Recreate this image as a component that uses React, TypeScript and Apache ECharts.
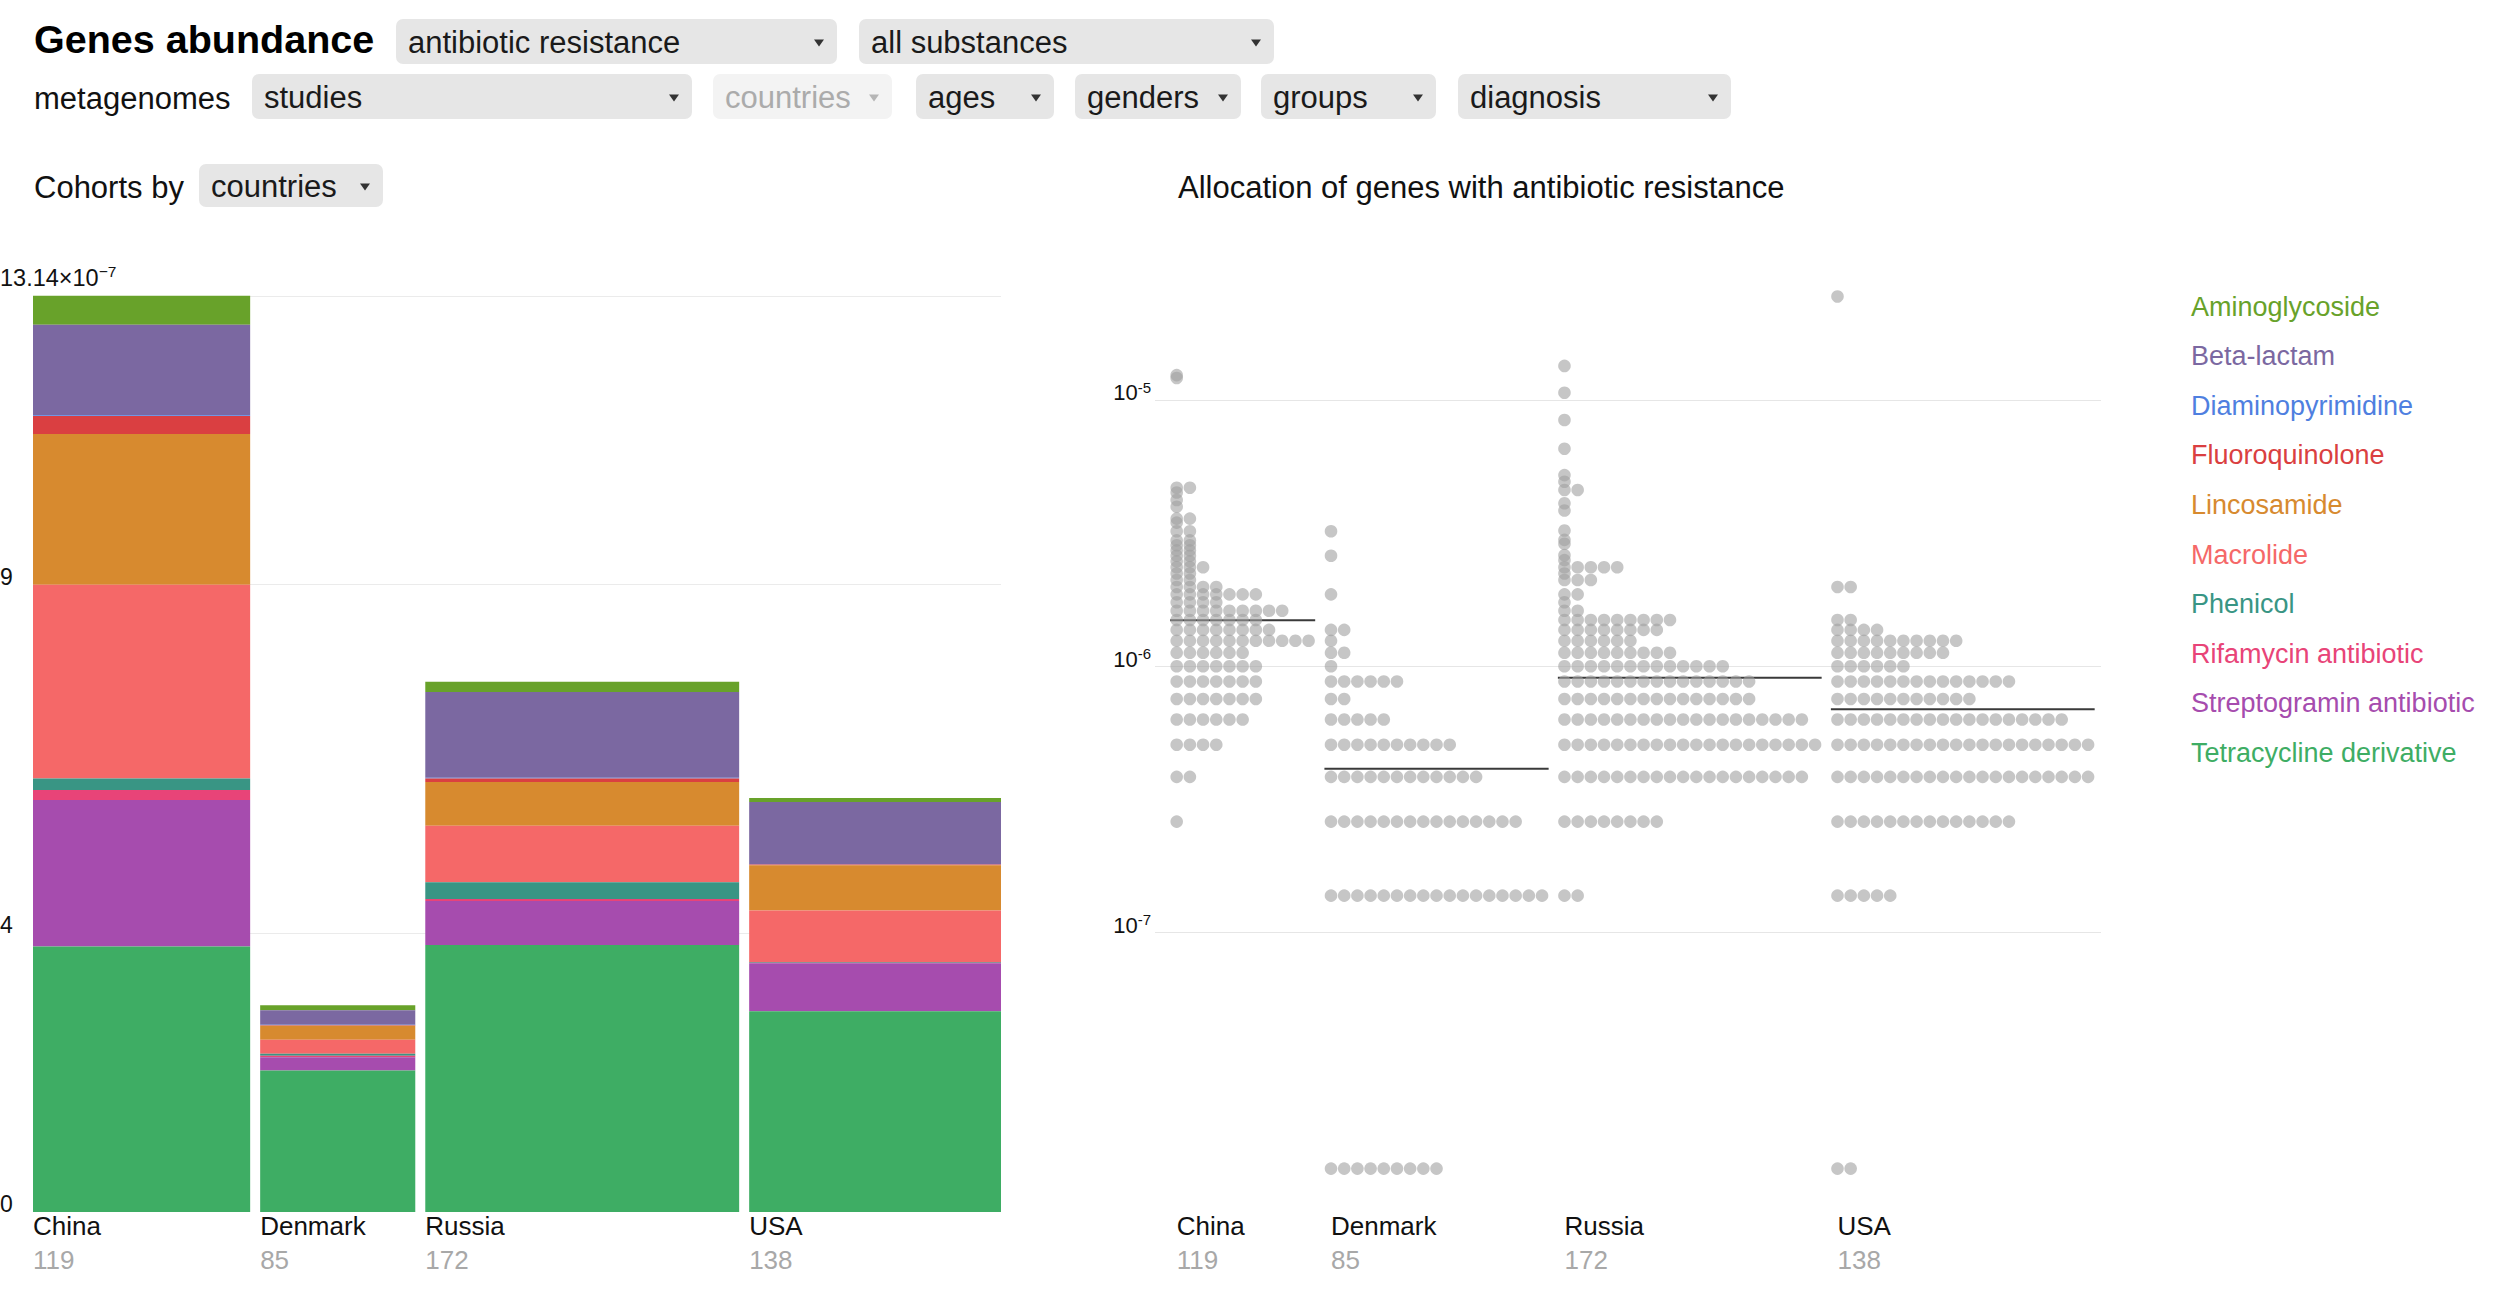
import React, { useEffect, useRef } from 'react';
import * as echarts from 'echarts';

const FONT = "'Liberation Sans', Arial, Helvetica, sans-serif";

// ---------- data: cohorts ----------
const countries = ['China', 'Denmark', 'Russia', 'USA'];
const cohortSizes = [119, 85, 172, 138];

const classNames = [
  'Aminoglycoside',
  'Beta-lactam',
  'Diaminopyrimidine',
  'Fluoroquinolone',
  'Lincosamide',
  'Macrolide',
  'Phenicol',
  'Rifamycin antibiotic',
  'Streptogramin antibiotic',
  'Tetracycline derivative',
];
const classColors = [
  '#68a22a',
  '#7b68a1',
  '#4f7fe0',
  '#da3f41',
  '#d78a2f',
  '#f56868',
  '#399584',
  '#e84478',
  '#a64cae',
  '#3ead64',
];

// mean abundance per antibiotic class, in units of 10^-7 (China, Denmark, Russia, USA)
const aminoglycoside = [0.415, 0.07, 0.145, 0.06];
const betaLactam = [1.3, 0.21, 1.23, 0.89];
const diaminopyrimidine = [0.01, 0.005, 0.01, 0.005];
const fluoroquinolone = [0.26, 0.01, 0.05, 0.01];
const lincosamide = [2.16, 0.2, 0.63, 0.65];
const macrolide = [2.78, 0.2, 0.81, 0.74];
const phenicol = [0.164, 0.03, 0.24, 0.01];
const rifamycin = [0.145, 0.02, 0.03, 0.005];
const streptogramin = [2.1, 0.19, 0.63, 0.69];
const tetracycline = [3.81, 2.03, 3.83, 2.88];
const classValues = [
  aminoglycoside, betaLactam, diaminopyrimidine, fluoroquinolone, lincosamide,
  macrolide, phenicol, rifamycin, streptogramin, tetracycline,
];

const barTickValues = [0, 4, 9, 13.14];
const barGridValues = [4, 9, 13.14];
const barMax = 13.14;
const barExponent = '\u22127';

// ---------- data: per-sample abundance, rows of [abundance, number of samples] ----------
const chinaRows = [
  [2.6e-7, 1], [3.83e-7, 2], [5.06e-7, 4], [6.29e-7, 6], [7.52e-7, 7], [8.75e-7, 7],
  [9.98e-7, 7], [1.121e-6, 6], [1.244e-6, 11], [1.367e-6, 8], [1.49e-6, 7], [1.613e-6, 9],
  [1.736e-6, 4], [1.859e-6, 7], [1.982e-6, 4], [2.105e-6, 2], [2.228e-6, 2], [2.351e-6, 3],
  [2.474e-6, 2], [2.597e-6, 2], [2.72e-6, 2], [2.843e-6, 2], [2.966e-6, 2], [3.21e-6, 2],
  [3.46e-6, 1], [3.58e-6, 2], [3.97e-6, 1], [4.21e-6, 1], [4.49e-6, 1], [4.68e-6, 2],
  [1.21e-5, 1], [1.24e-5, 1],
];
const denmarkRows = [
  [0, 9], [1.37e-7, 17], [2.6e-7, 15], [3.83e-7, 12], [5.06e-7, 10], [6.29e-7, 5],
  [7.52e-7, 2], [8.75e-7, 6], [9.98e-7, 1], [1.121e-6, 2], [1.244e-6, 1], [1.367e-6, 2],
  [1.859e-6, 1], [2.597e-6, 1], [3.21e-6, 1],
];
const russiaRows = [
  [1.37e-7, 2], [2.6e-7, 8], [3.83e-7, 19], [5.06e-7, 20], [6.29e-7, 19], [7.52e-7, 15],
  [8.75e-7, 15], [9.98e-7, 13], [1.121e-6, 9], [1.244e-6, 6], [1.367e-6, 8], [1.49e-6, 9],
  [1.613e-6, 2], [1.736e-6, 1], [1.859e-6, 2], [2.105e-6, 3], [2.228e-6, 1], [2.351e-6, 5],
  [2.5e-6, 1], [2.61e-6, 1], [2.88e-6, 1], [2.98e-6, 1], [3.23e-6, 1], [3.84e-6, 1],
  [4.09e-6, 1], [4.59e-6, 2], [4.93e-6, 1], [5.22e-6, 1], [6.56e-6, 1], [8.41e-6, 1],
  [1.065e-5, 1], [1.343e-5, 1],
];
const usaRows = [
  [0, 2], [1.37e-7, 5], [2.6e-7, 14], [3.83e-7, 20], [5.06e-7, 20], [6.29e-7, 18],
  [7.52e-7, 11], [8.75e-7, 14], [9.98e-7, 6], [1.121e-6, 9], [1.244e-6, 10], [1.367e-6, 4],
  [1.49e-6, 2], [1.982e-6, 2], [2.45e-5, 1],
];
const countryRows = [chinaRows, denmarkRows, russiaRows, usaRows];
const medianAbundance = [1.486e-6, 4.11e-7, 9.04e-7, 6.88e-7];
const logTickValues = [1e-7, 1e-6, 1e-5];
const zeroPlotValue = 1.29e-8; // samples with zero abundance are drawn on this floor
const logMin = 8.86e-9;
const logMax = 2.46e-5;

// ---------- layout constants ----------
const BAR_GAP_UNITS = 5.48;
const DOT_COLUMN_GAP = 0.7;
const DOT_X_MIN = -1.645;
const DOT_X_MAX = 70.08;

function buildOption() {
  // bar positions (width proportional to cohort size)
  const barStarts: number[] = [];
  let acc = 0;
  cohortSizes.forEach((n) => {
    barStarts.push(acc);
    acc += n + BAR_GAP_UNITS;
  });
  const barAxisMax = acc - BAR_GAP_UNITS;

  // stacks: bottom = last class, top = first class
  const stackOrder = classNames.map((_, i) => i).reverse();
  const segData: number[][][] = classNames.map(() => []);
  countries.forEach((_, ci) => {
    let base = 0;
    stackOrder.forEach((k) => {
      const v = classValues[k][ci];
      segData[k].push([barStarts[ci], barStarts[ci] + cohortSizes[ci], base, base + v]);
      base += v;
    });
  });

  // dot columns
  const maxCounts = countryRows.map((rows) => Math.max(...rows.map((r) => r[1])));
  const colStarts: number[] = [];
  let c = 0;
  maxCounts.forEach((m) => {
    colStarts.push(c);
    c += m + DOT_COLUMN_GAP;
  });
  const dotPoints: number[][] = [];
  countryRows.forEach((rows, ci) => {
    rows.forEach(([v, n]) => {
      for (let i = 0; i < n; i++) dotPoints.push([colStarts[ci] + i, v === 0 ? zeroPlotValue : v]);
    });
  });

  const barSeries = classNames.map((name, k) => ({
    type: 'custom',
    name,
    xAxisIndex: 0,
    yAxisIndex: 0,
    silent: true,
    itemStyle: { color: classColors[k] },
    encode: { x: [0, 1], y: [2, 3] },
    data: segData[k],
    renderItem: (params: any, api: any) => {
      const a = api.coord([api.value(0), api.value(2)]);
      const b = api.coord([api.value(1), api.value(3)]);
      return {
        type: 'rect',
        shape: { x: a[0], y: b[1], width: b[0] - a[0], height: a[1] - b[1] },
        style: { fill: classColors[k] },
      };
    },
  }));

  const labelGroup = (x: number, y: number, i: number) => ({
    type: 'group',
    children: [
      {
        type: 'text',
        x,
        y: y + 14,
        style: {
          text: countries[i], fill: '#111', fontSize: 26, fontFamily: FONT,
          align: 'left', verticalAlign: 'middle', textAlign: 'left', textVerticalAlign: 'middle',
        },
      },
      {
        type: 'text',
        x,
        y: y + 48,
        style: {
          text: String(cohortSizes[i]), fill: '#a8a8a8', fontSize: 26, fontFamily: FONT,
          align: 'left', verticalAlign: 'middle', textAlign: 'left', textVerticalAlign: 'middle',
        },
      },
    ],
  });

  const barLabelSeries = {
    type: 'custom',
    xAxisIndex: 0,
    yAxisIndex: 0,
    silent: true,
    encode: { x: 0, y: 1 },
    data: countries.map((_, i) => [barStarts[i], 0]),
    renderItem: (params: any, api: any) => {
      const p = api.coord([api.value(0), api.value(1)]);
      return labelGroup(p[0], p[1], params.dataIndex);
    },
  };

  const dotSeries = {
    type: 'scatter',
    xAxisIndex: 1,
    yAxisIndex: 1,
    silent: true,
    symbol: 'circle',
    symbolSize: 12.6,
    itemStyle: { color: '#a0a0a0', opacity: 0.6 },
    data: dotPoints,
  };

  const medianSeries = {
    type: 'custom',
    xAxisIndex: 1,
    yAxisIndex: 1,
    silent: true,
    encode: { x: [0, 1], y: 2 },
    data: countries.map((_, i) => [colStarts[i] - 0.5, colStarts[i] + maxCounts[i] - 0.5, medianAbundance[i]]),
    renderItem: (params: any, api: any) => {
      const a = api.coord([api.value(0), api.value(2)]);
      const b = api.coord([api.value(1), api.value(2)]);
      return {
        type: 'line',
        shape: { x1: a[0], y1: a[1], x2: b[0], y2: b[1] },
        style: { stroke: '#3a3a3a', lineWidth: 2 },
      };
    },
  };

  const dotLabelSeries = {
    type: 'custom',
    xAxisIndex: 1,
    yAxisIndex: 1,
    silent: true,
    encode: { x: 0, y: 1 },
    data: countries.map((_, i) => [colStarts[i], logMin]),
    renderItem: (params: any, api: any) => {
      const p = api.coord([api.value(0), api.value(1)]);
      return labelGroup(p[0], p[1], params.dataIndex);
    },
  };

  // ---------- header (controls) ----------
  const dropdowns = [
    { x: 396, y: 19, w: 441, h: 45, text: 'antibiotic resistance' },
    { x: 859, y: 19, w: 415, h: 45, text: 'all substances' },
    { x: 252, y: 74, w: 440, h: 45, text: 'studies' },
    { x: 713, y: 74, w: 179, h: 45, text: 'countries', disabled: true },
    { x: 916, y: 74, w: 138, h: 45, text: 'ages' },
    { x: 1075, y: 74, w: 166, h: 45, text: 'genders' },
    { x: 1261, y: 74, w: 175, h: 45, text: 'groups' },
    { x: 1458, y: 74, w: 273, h: 45, text: 'diagnosis' },
    { x: 199, y: 164, w: 184, h: 43, text: 'countries' },
  ];
  const txt = (text: string, x: number, y: number, size: number, extra: any = {}) => ({
    type: 'text',
    x,
    y,
    silent: true,
    style: {
      text, fill: '#111', fontSize: size, fontFamily: FONT,
      align: 'left', verticalAlign: 'middle', textAlign: 'left', textVerticalAlign: 'middle',
      ...extra,
    },
  });
  const graphics: any[] = [
    txt('Genes abundance', 34, 39, 39.5, { fontWeight: 'bold', fill: '#000' }),
    txt('metagenomes', 34, 98, 31),
    txt('Cohorts by', 34, 187, 31),
    txt('Allocation of genes with antibiotic resistance', 1178, 187, 31),
  ];
  dropdowns.forEach((d) => {
    const cy = d.y + d.h / 2;
    const ax = d.x + d.w - 18;
    graphics.push({
      type: 'rect',
      silent: true,
      shape: { x: d.x, y: d.y, width: d.w, height: d.h, r: 7 },
      style: { fill: d.disabled ? '#f3f3f3' : '#e6e6e6' },
    });
    graphics.push(txt(d.text, d.x + 12, cy + 1, 31, { fill: d.disabled ? '#ababab' : '#1a1a1a' }));
    graphics.push({
      type: 'polygon',
      silent: true,
      shape: { points: [[ax - 5, cy - 2], [ax + 5, cy - 2], [ax, cy + 5]] },
      style: { fill: d.disabled ? '#b5b5b5' : '#333' },
    });
  });

  return {
    animation: false,
    backgroundColor: '#fff',
    textStyle: { fontFamily: FONT },
    graphic: { elements: graphics },
    legend: {
      orient: 'vertical',
      left: 2186,
      top: 292.5,
      padding: 0,
      itemWidth: 0,
      itemHeight: 28,
      itemGap: 21.6,
      selectedMode: false,
      icon: 'rect',
      itemStyle: { opacity: 0 },
      textStyle: { fontSize: 27, lineHeight: 28, fontFamily: FONT },
      data: classNames.map((name, k) => ({ name, textStyle: { color: classColors[k] } })),
    },
    grid: [
      { left: 33, top: 296, width: 968, height: 916, outerBoundsMode: 'none' },
      { left: 1155, top: 296, width: 946, height: 916, outerBoundsMode: 'none' },
    ],
    xAxis: [
      { type: 'value', gridIndex: 0, min: 0, max: barAxisMax, show: false },
      { type: 'value', gridIndex: 1, min: DOT_X_MIN, max: DOT_X_MAX, show: false },
    ],
    yAxis: [
      {
        type: 'value',
        gridIndex: 0,
        min: 0,
        max: barMax,
        axisLine: { show: false },
        axisTick: { show: false, customValues: barGridValues },
        splitLine: { show: true, lineStyle: { color: '#ebebeb', width: 1 } },
        axisLabel: {
          customValues: barTickValues,
          align: 'left',
          margin: 33,
          verticalAlign: 'bottom',
          formatter: (v: number) =>
            Math.abs(v - barMax) < 1e-9 ? `{top|${barMax}\u00d710}{sup|${barExponent}}` : `{n|${v}}`,
          rich: {
            n: { fontSize: 23, lineHeight: 16, fontFamily: FONT, color: '#111' },
            top: { fontSize: 23.5, lineHeight: 34, padding: [4, 0, 0, 0], verticalAlign: 'top', fontFamily: FONT, color: '#111' },
            sup: { fontSize: 15.5, lineHeight: 34, padding: [1, 0, 0, 0], verticalAlign: 'top', fontFamily: FONT, color: '#111' },
          },
        },
      },
      {
        type: 'log',
        logBase: 10,
        gridIndex: 1,
        min: logMin,
        max: logMax,
        axisLine: { show: false },
        axisTick: { show: false, customValues: logTickValues },
        splitLine: { show: true, lineStyle: { color: '#e6e6e6', width: 1 } },
        minorSplitLine: { show: false },
        axisLabel: {
          customValues: logTickValues,
          margin: 4,
          verticalAlign: 'bottom',
          formatter: (v: number) => `{b|10}{s|${Math.round(Math.log10(v))}}`,
          rich: {
            b: { fontSize: 22, lineHeight: 20, padding: [2, 0, 0, 0], verticalAlign: 'top', fontFamily: FONT, color: '#111' },
            s: { fontSize: 15, lineHeight: 20, padding: [0, 0, 0, 0], verticalAlign: 'top', fontFamily: FONT, color: '#111' },
          },
        },
      },
    ],
    series: [...barSeries, barLabelSeries, dotSeries, medianSeries, dotLabelSeries],
  };
}

export default function App() {
  const ref = useRef<HTMLDivElement>(null);
  useEffect(() => {
    if (!ref.current) return;
    const chart = echarts.init(ref.current, undefined, { renderer: 'svg' });
    chart.setOption(buildOption() as any);
    return () => chart.dispose();
  }, []);
  return (
    <div
      ref={ref}
      style={{ position: 'absolute', left: 0, top: 0, width: 2500, height: 1290, background: '#fff' }}
    />
  );
}
